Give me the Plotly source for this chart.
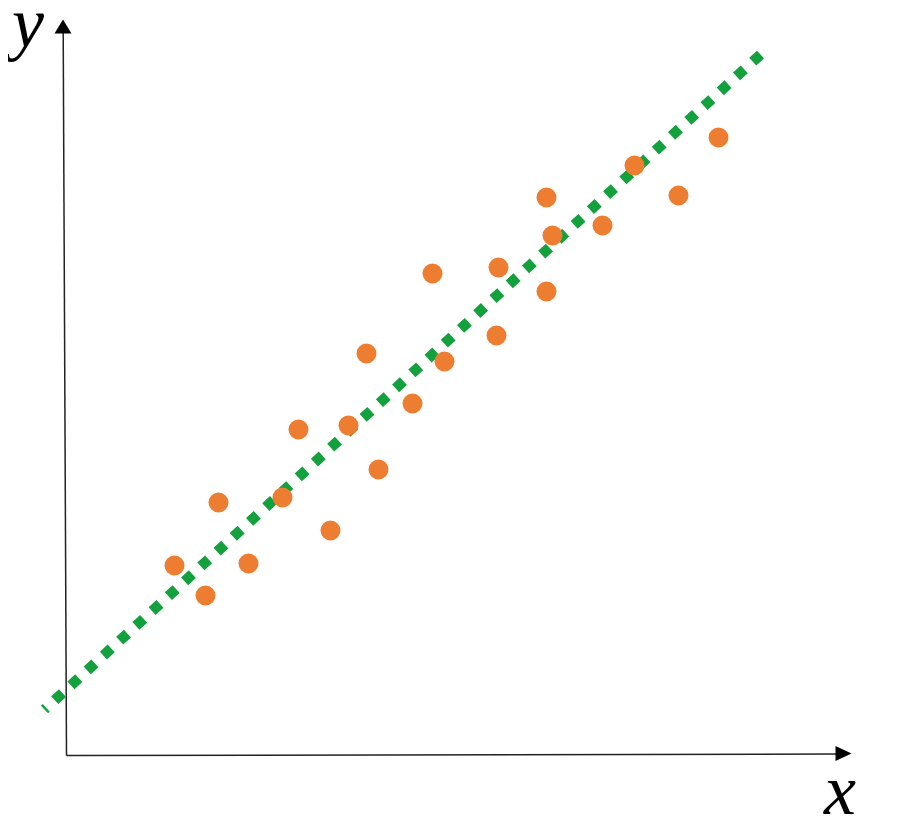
import plotly.graph_objects as go

# scatter data (arbitrary units)
pts_x = [10.8, 13.9, 15.2, 18.2, 21.6, 23.2, 26.4, 28.2, 30.0, 31.2, 34.6,
         36.6, 37.8, 43.0, 43.2, 48.0, 48.6, 48.0, 53.6, 56.8, 61.2, 65.2]
pts_y = [19.0, 16.0, 25.3, 19.2, 25.8, 32.6, 22.5, 33.0, 40.2, 28.6, 35.2,
         48.2, 39.4, 42.0, 48.8, 55.8, 52.0, 46.4, 53.0, 59.0, 56.0, 61.8]

# fitted trend line end points (drawn from the upper end downwards)
fit_x = [69.4, -2.2]
fit_y = [70.1, 4.6]

axis_label_x = "x"
axis_label_y = "y"

fig = go.Figure()
fig.add_trace(go.Scatter(x=fit_x, y=fit_y, mode="lines",
                         line=dict(color="#12A13C", width=10.5, dash="10.5px,11.5px"),
                         hoverinfo="skip", showlegend=False))
fig.add_trace(go.Scatter(x=pts_x, y=pts_y, mode="markers",
                         marker=dict(size=20, color="#ED7D31", line=dict(width=0)),
                         showlegend=False))

axis_col = "#222222"
# y axis line + arrowhead
fig.add_shape(type="line", x0=0.0, y0=0.0, x1=-0.33, y1=72.3,
              line=dict(color=axis_col, width=1.5), layer="below")
fig.add_shape(type="path", path="M -0.35,73.6 L -1.2,72.2 L 0.5,72.2 Z",
              fillcolor="#000000", line=dict(width=0))
# x axis line + arrowhead
fig.add_shape(type="line", x0=0.0, y0=0.0, x1=77.0, y1=0.15,
              line=dict(color=axis_col, width=1.5), layer="below")
fig.add_shape(type="path", path="M 78.5,0.2 L 76.9,0.95 L 76.9,-0.55 Z",
              fillcolor="#000000", line=dict(width=0))

fig.add_annotation(x=-4.25, y=73.3, text="<i>" + axis_label_y + "</i>", showarrow=False,
                   font=dict(family="Liberation Serif", size=72, color="#000000"))
fig.add_annotation(x=77.3, y=-3.4, text="<i>" + axis_label_x + "</i>", showarrow=False,
                   font=dict(family="Liberation Serif", size=72, color="#000000"))

fig.update_layout(
    width=894, height=812,
    margin=dict(l=0, r=0, t=0, b=0),
    paper_bgcolor="white", plot_bgcolor="white",
    xaxis=dict(range=[-5.85, 83.55], visible=False, fixedrange=True),
    yaxis=dict(range=[-6.45, 74.75], visible=False, fixedrange=True),
    showlegend=False,
)

fig.write_html("out.html")
